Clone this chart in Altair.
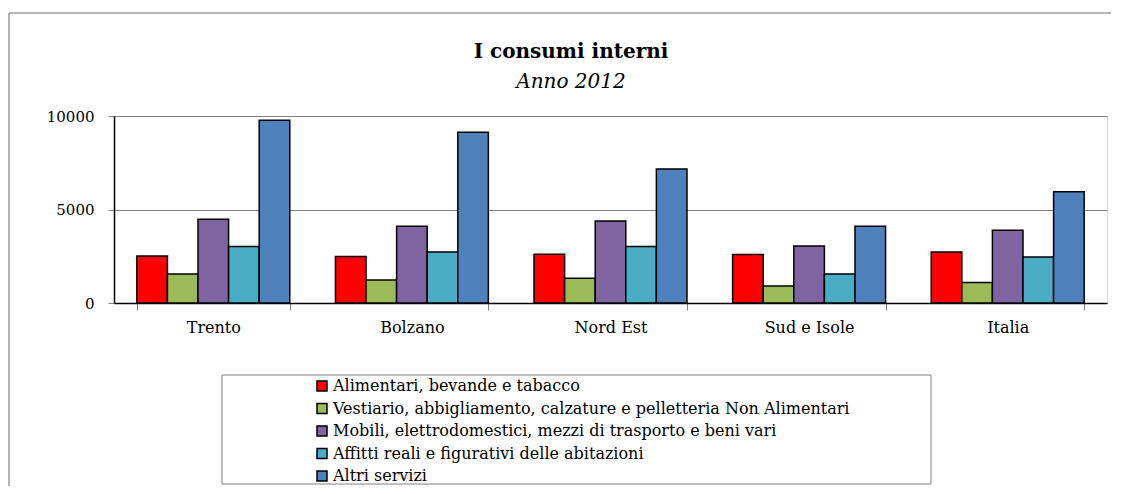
import altair as alt
import pandas as pd

regioni = ["Trento", "Bolzano", "Nord Est", "Sud e Isole", "Italia"]
serie = [
    "Alimentari, bevande e tabacco",
    "Vestiario, abbigliamento, calzature e pelletteria Non Alimentari",
    "Mobili, elettrodomestici, mezzi di trasporto e beni vari",
    "Affitti reali e figurativi delle abitazioni",
    "Altri servizi",
]
alimentari = [2520, 2490, 2610, 2590, 2730]
vestiario = [1550, 1230, 1320, 910, 1090]
mobili = [4480, 4110, 4390, 3050, 3890]
affitti = [3020, 2730, 3020, 1550, 2460]
altri = [9770, 9130, 7160, 4110, 5950]
colori = ["#ff0000", "#9bbb59", "#8064a2", "#4bacc6", "#4f81bd"]
y_ticks = [0, 5000, 10000]

FONT = "DejaVu Serif"

rows = []
for s, vals in zip(serie, [alimentari, vestiario, mobili, affitti, altri]):
    for r, v in zip(regioni, vals):
        rows.append({"regione": r, "serie": s, "valore": v})
df = pd.DataFrame(rows)
one = pd.DataFrame({"k": [0]})

frame_top = alt.Chart(one).mark_rule(stroke="#b4b4b4", strokeWidth=2).encode(
    x=alt.value(-105), x2=alt.value(1040), y=alt.value(-103)
)
frame_left = alt.Chart(one).mark_rule(stroke="#b4b4b4", strokeWidth=2).encode(
    x=alt.value(-105), y=alt.value(-103), y2=alt.value(420)
)
legend_box = alt.Chart(one).mark_rect(fill="white", stroke="#808080", strokeWidth=1).encode(
    x=alt.value(108), x2=alt.value(817), y=alt.value(259), y2=alt.value(368)
)

bars = alt.Chart(df).mark_bar(stroke="black", strokeWidth=1.5).encode(
    x=alt.X(
        "regione:N",
        sort=regioni,
        title=None,
        scale=alt.Scale(paddingInner=0.23, paddingOuter=0.115),
        axis=alt.Axis(
            labelAngle=0, labelFont=FONT, labelFontSize=16, labelColor="black",
            labelPadding=9, tickSize=7, tickColor="#808080", domainColor="black",
            domainWidth=1.5, tickBand="extent", grid=False,
        ),
    ),
    xOffset=alt.XOffset("serie:N", sort=serie, scale=alt.Scale(paddingInner=0, paddingOuter=0)),
    y=alt.Y(
        "valore:Q",
        title=None,
        scale=alt.Scale(domain=[0, 10000], nice=False),
        axis=alt.Axis(
            values=y_ticks, format="d", labelFont=FONT, labelFontSize=15, labelColor="black",
            labelPadding=14, tickSize=6, tickColor="#808080", domainColor="black",
            domainWidth=1.5, grid=True, gridColor="#808080", gridWidth=1,
        ),
    ),
    color=alt.Color(
        "serie:N",
        sort=serie,
        scale=alt.Scale(domain=serie, range=colori),
        legend=alt.Legend(
            title=None, orient="none", legendX=200, legendY=262,
            symbolType="square", symbolSize=100, symbolStrokeColor="black",
            symbolStrokeWidth=1.5, symbolOpacity=1,
            labelFont=FONT, labelFontSize=16, labelColor="black", labelLimit=1000,
            labelOffset=3, rowPadding=6.5,
        ),
    ),
)

title = alt.Chart(one).mark_text(
    font=FONT, fontSize=20, fontWeight="bold", color="black", align="center", baseline="middle"
).encode(x=alt.value(457), y=alt.value(-64), text=alt.value("I consumi interni"))
subtitle = alt.Chart(one).mark_text(
    font=FONT, fontSize=20, fontStyle="italic", color="black", align="center", baseline="middle"
).encode(x=alt.value(457), y=alt.value(-34), text=alt.value("Anno 2012"))

chart = alt.layer(frame_top, frame_left, legend_box, bars, title, subtitle).properties(
    width=993,
    height=187,
    autosize=alt.AutoSizeParams(type="none"),
    padding={"left": 106, "top": 108, "right": 4, "bottom": 183},
).configure_view(stroke="#888888", strokeWidth=2).configure(background="white")

chart.save("out.html", embed_options={"renderer": "svg", "actions": False})
